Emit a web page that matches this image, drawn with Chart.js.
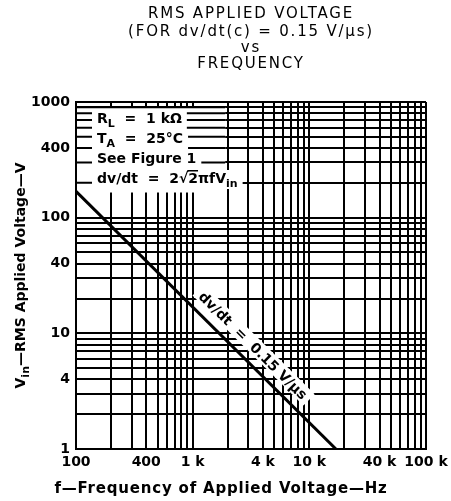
<!DOCTYPE html>
<html>
<head>
<meta charset="utf-8">
<script src="https://cdn.jsdelivr.net/npm/chart.js@4.4.1/dist/chart.umd.min.js"></script>
<style>
  html, body { margin: 0; padding: 0; background: #fff; }
  #wrap { width: 451px; height: 501px; }
</style>
</head>
<body>
<div id="wrap"><canvas id="chart" width="451" height="501"></canvas></div>
<script>
// curve (end points of the straight log-log line)
const freqHz = [100, 16900];
const vinRms = [169, 1];

// labelled ticks
const xTickValues = [100, 400, 1000, 4000, 10000, 40000, 100000];
const xTickLabels = ['100', '400', '1 k', '4 k', '10 k', '40 k', '100 k'];
const yTickValues = [1, 4, 10, 40, 100, 400, 1000];
const yTickLabels = ['1', '4', '10', '40', '100', '400', '1000'];

const titleLines = ['RMS APPLIED VOLTAGE', '(FOR dv/dt(c) = 0.15 V/\u03bcs)', 'vs', 'FREQUENCY'];
const lineLabel = 'dv/dt  =  0.15 V/\u03bcs';

// note block, [text, style]
const noteLines = [
    [['R', ''], ['L', 'sub'], ['  =  1 k\u03a9', '']],
    [['T', ''], ['A', 'sub'], ['  =  25\u00b0C', '']],
    [['See Figure 1', '']],
    [['dv/dt  =  2', ''], ['\u221a', ''], ['2', 'over'], ['\u03c0fV', ''], ['in', 'sub']]
];

// grid lines at 1..9 of each decade
function decadeGrid(min, max) {
    const out = [];
    for (let d = min; d < max; d *= 10) {
        for (let m = 1; m < 10; m++) out.push({ value: d * m });
    }
    out.push({ value: max });
    return out;
}

const FONT = '"DejaVu Sans", sans-serif';

function drawRich(ctx, parts, x, y, size) {
    parts.forEach(p => {
        ctx.font = (p[1] === 'sub' ? 'bold ' + (size - 3) + 'px ' : 'bold ' + size + 'px ') + FONT;
        const w = ctx.measureText(p[0]).width;
        ctx.fillText(p[0], x, p[1] === 'sub' ? y + 4 : y);
        if (p[1] === 'over') ctx.fillRect(x - 1, y - size + 1, w + 1, 1.5);
        x += w;
    });
    return x;
}

function richWidth(ctx, parts, size) {
    let w = 0;
    parts.forEach(p => {
        ctx.font = (p[1] === 'sub' ? 'bold ' + (size - 3) + 'px ' : 'bold ' + size + 'px ') + FONT;
        w += ctx.measureText(p[0]).width;
    });
    return w;
}

const decorPlugin = {
    id: 'decor',
    beforeDatasetsDraw(chart) {
        const ctx = chart.ctx;
        const area = chart.chartArea;
        const xs = chart.scales.x, ys = chart.scales.y;
        // white note box in top-left corner
        const boxR = xs.getPixelForValue(1900);
        const boxT = area.top + 5;
        const boxB = ys.getPixelForValue(165);
        ctx.save();
        ctx.fillStyle = '#fff';
        ctx.fillRect(area.left + 1, boxT, boxR - area.left - 1, boxB - boxT);
        ctx.strokeStyle = '#000';
        ctx.lineWidth = 2;
        ys.ticks.forEach(t => {
            const py = ys.getPixelForValue(t.value);
            if (py > boxT && py < boxB) {
                ctx.beginPath();
                ctx.moveTo(area.left, py);
                ctx.lineTo(boxR, py);
                ctx.stroke();
            }
        });
        ctx.textAlign = 'left';
        ctx.textBaseline = 'alphabetic';
        noteLines.forEach((parts, i) => {
            const tx = area.left + 21;
            const ty = area.top + 21 + i * 20;
            const w = richWidth(ctx, parts, 14);
            ctx.fillStyle = '#fff';
            ctx.fillRect(tx - 5, ty - 13, w + 10, 19);
            ctx.fillStyle = '#000';
            drawRich(ctx, parts, tx, ty, 14);
        });
        ctx.restore();
    },
    afterDatasetsDraw(chart) {
        const ctx = chart.ctx;
        const pts = chart.getDatasetMeta(0).data;
        const p0 = pts[0], p1 = pts[1];
        const ang = Math.atan2(p1.y - p0.y, p1.x - p0.x);
        const t = 0.64;
        const off = 14;
        const cx = p0.x + t * (p1.x - p0.x) + Math.sin(ang) * off;
        const cy = p0.y + t * (p1.y - p0.y) - Math.cos(ang) * off;
        ctx.save();
        ctx.translate(cx, cy);
        ctx.rotate(ang);
        ctx.font = 'bold 14px ' + FONT;
        const w = ctx.measureText(lineLabel).width;
        ctx.fillStyle = '#fff';
        ctx.fillRect(-w / 2 - 5, -10, w + 10, 16);
        ctx.fillStyle = '#000';
        ctx.textAlign = 'center';
        ctx.textBaseline = 'middle';
        ctx.fillText(lineLabel, 0, 0);
        ctx.restore();
    },
    afterDraw(chart) {
        const ctx = chart.ctx;
        const area = chart.chartArea;
        const midX = (area.left + area.right) / 2;
        ctx.save();
        ctx.fillStyle = '#000';
        ctx.textAlign = 'center';
        ctx.textBaseline = 'alphabetic';
        ctx.font = '15px ' + FONT;
        ctx.letterSpacing = '1.8px';
        const base = [18, 36, 52, 68];
        titleLines.forEach((s, i) => ctx.fillText(s, midX, base[i]));

        // x axis title
        ctx.font = 'bold 15px ' + FONT;
        ctx.letterSpacing = '0.8px';
        ctx.fillText('f\u2014Frequency of Applied Voltage\u2014Hz', 221, 493);
        ctx.letterSpacing = '0px';

        // y axis title, rotated, with subscript
        const yParts = [['V', ''], ['in', 'sub'], ['\u2014RMS Applied Voltage\u2014V', '']];
        const yw = richWidth(ctx, yParts, 14);
        ctx.translate(25, (area.top + area.bottom) / 2);
        ctx.rotate(-Math.PI / 2);
        ctx.textAlign = 'left';
        drawRich(ctx, yParts, -yw / 2, 0, 14);
        ctx.restore();
    }
};

const ctx = document.getElementById('chart').getContext('2d');
const chart = new Chart(ctx, {
    type: 'line',
    data: {
        datasets: [{
            data: freqHz.map((f, i) => ({ x: f, y: vinRms[i] })),
            borderColor: '#000',
            borderWidth: 3,
            pointRadius: 0,
            fill: false
        }]
    },
    options: {
        responsive: false,
        animation: false,
        layout: { padding: { top: 102, right: 25, left: 0, bottom: 0 } },
        plugins: {
            legend: { display: false },
            tooltip: { enabled: false },
            title: { display: false }
        },
        scales: {
            x: {
                type: 'logarithmic',
                min: 100,
                max: 100000,
                afterBuildTicks: s => { s.ticks = decadeGrid(100, 100000); },
                afterFit: s => { s.height = 52; s.paddingLeft = 0; s.paddingRight = 0; },
                grid: { color: '#000', lineWidth: 2, drawTicks: false },
                border: { color: '#000', width: 2 },
                ticks: {
                    autoSkip: false,
                    maxRotation: 0,
                    padding: 5,
                    color: '#000',
                    font: { family: FONT, size: 14, weight: 'bold' },
                    callback: v => {
                        const i = xTickValues.indexOf(v);
                        return i >= 0 ? xTickLabels[i] : '';
                    }
                }
            },
            y: {
                type: 'logarithmic',
                min: 1,
                max: 1000,
                afterBuildTicks: s => { s.ticks = decadeGrid(1, 1000); },
                afterFit: s => { s.width = 76; s.paddingTop = 0; s.paddingBottom = 0; },
                grid: { color: '#000', lineWidth: 2, drawTicks: false },
                border: { color: '#000', width: 2 },
                ticks: {
                    autoSkip: false,
                    padding: 6,
                    color: '#000',
                    font: { family: FONT, size: 14, weight: 'bold' },
                    callback: v => {
                        const i = yTickValues.indexOf(v);
                        return i >= 0 ? yTickLabels[i] : '';
                    }
                }
            }
        }
    },
    plugins: [decorPlugin]
});
</script>
</body>
</html>
